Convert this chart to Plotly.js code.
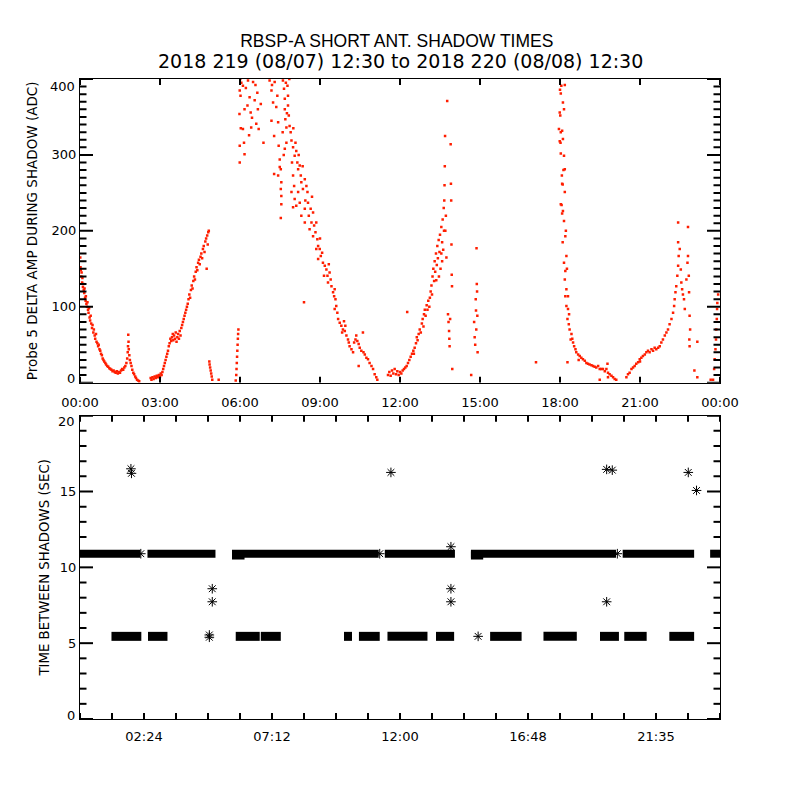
<!DOCTYPE html>
<html>
<head>
<meta charset="utf-8">
<script src="https://cdn.plot.ly/plotly-3.0.1.min.js"></script>
<style>html,body{margin:0;padding:0;background:#fff;}#chart{width:800px;height:800px;}</style>
</head>
<body>
<div id="chart"></div>
<script>
// ---------- Top panel: Probe 5 delta amplitude (ADC) vs hour of interval ----------
const ampHoursA = [0.01,0.02,0.03,0.05,0.06,0.08,0.09,0.11,0.12,0.14,0.16,0.17,0.19,0.21,0.22,
  0.24,0.26,0.28,0.30,0.32,0.34,0.36,0.38,0.40,0.42,
  0.45,0.47,0.50,0.52,0.55,0.57,0.60,0.62,0.65,0.68,
  0.70,0.73,0.76,0.79,0.82,0.85,0.88,0.91,0.95,0.98,
  1.02,1.06,1.10,1.14,1.18,1.22,1.26,1.30,1.34,1.38,
  1.42,1.46,1.50,1.54,1.58,1.62,1.66,1.70,1.74,1.77,
  1.79,1.80,1.81,1.82,1.83,1.85,1.87,1.90,1.93,1.96,
  2.00,2.03,2.07,2.10,2.14,2.18,2.22];
const ampAdcA = [165,152,148,140,145,132,138,126,130,122,118,124,112,108,114,
  104,100,106,96,92,98,86,82,88,78,
  72,76,66,70,62,58,64,54,52,48,
  50,44,42,38,36,32,30,28,26,24,
  22,21,19,18,17,15,16,14,13,15,
  12,14,13,16,18,17,20,22,26,32,
  40,48,63,54,44,36,30,26,22,17,
  13,11,8,6,4,3,2];

const ampHoursB = [2.65,2.68,2.72,2.76,2.80,2.84,2.88,2.92,2.96,3.00,
  3.03,3.06,3.09,3.12,3.15,3.18,3.21,3.24,3.27,3.30,
  3.33,3.36,3.39,3.42,3.45,3.48,3.50,3.53,3.56,3.59,
  3.62,3.65,3.68,3.71,3.74,3.77,3.80,3.83,3.86,3.89,
  3.92,3.95,3.98,4.01,4.04,4.07,4.10,4.13,4.16,4.19,
  4.22,4.25,4.28,4.31,4.34,4.37,4.40,4.43,4.46,4.49,
  4.52,4.55,4.58,4.61,4.64,4.67,4.70,4.73,4.75,4.77,
  4.79,4.81,4.83];
const ampAdcB = [6,4,7,5,8,6,9,7,10,8,
  12,10,14,18,22,26,30,34,38,42,
  48,52,58,55,60,64,56,62,58,66,
  54,60,64,58,68,62,72,76,80,84,
  88,92,96,100,104,110,116,112,122,128,
  124,134,140,136,146,152,148,158,162,156,
  166,170,164,176,180,172,186,190,150,194,
  182,198,200];

const ampHoursC = [4.85,4.86,4.88,4.90,4.92,4.94,4.96,5.20,5.84,5.86,5.87,5.88,5.89,5.90,5.91,5.92,5.93,5.94];
const ampAdcC  = [28,24,20,16,12,8,4,4,3,10,18,26,34,42,50,58,64,70];

const ampHoursD = [5.99,6.02,6.11,6.17,6.11,6.15,5.99,5.99,6.17,6.30,
  6.36,6.40,6.42,6.45,6.49,6.55,6.61,6.65,6.67,6.70,
  6.78,6.34,6.28,6.01,5.98,6.03,6.05,6.22,6.58,6.88,
  7.11,7.18,7.24,7.18,7.28,7.30,7.36,7.40,7.43,7.45,
  7.49,7.53,7.55,7.55,7.53,7.61,7.65,7.68,7.68,7.70,
  7.74,7.78,7.80,7.80,7.83,7.86,7.74,7.68,7.49,7.53,
  7.55,7.28,7.43,7.20,7.60,7.72,7.85,7.76,7.64,7.90];
const ampAdcD = [385,378,391,360,334,316,312,290,301,398,
  376,356,336,349,396,372,341,382,360,334,
  367,326,365,400,354,335,395,388,392,316,
  398,385,369,345,325,396,363,378,343,312,
  294,281,264,246,217,398,387,374,360,347,
  336,391,378,365,352,338,316,308,284,255,
  235,275,273,392,330,395,400,355,300,330];

const ampHoursE = [7.93,7.99,8.05,8.08,8.11,8.15,8.18,7.95,7.99,8.03,
  7.93,8.05,8.24,8.28,8.30,8.36,8.43,8.49,8.53,8.55,
  8.18,8.24,8.11,7.99,8.30,8.43,8.43,8.58,8.65,8.74,
  8.68,8.78,8.83,8.74,8.61,8.86,8.90,8.93,8.99,9.03,
  8.86,8.93,9.08,9.11,9.18,9.24,9.15,9.28,9.33,9.36,
  9.30,9.40,9.43,9.49,9.53,9.55,9.58,9.61,9.55,9.65,
  9.68,9.74,9.80,9.86,9.83,9.93,9.99,9.95,9.90,10.05,
  10.11,10.18,10.24,10.08,10.28,10.33,10.36,10.40,10.45,10.49,
  10.55,10.61,10.63,10.68,10.74,10.80,10.86,10.93,10.99,11.05,
  11.11,11.15,10.45,8.40,8.20,8.35,8.00,8.45,8.70,9.00];
const ampAdcE = [319,310,299,316,305,290,281,290,273,259,
  251,242,286,273,264,255,268,259,251,237,
  251,237,233,231,220,211,229,220,229,224,
  211,207,198,193,202,211,189,180,176,167,
  176,163,171,158,154,149,141,141,156,145,
  132,136,127,119,114,123,110,101,97,92,
  84,79,75,70,66,68,62,75,81,57,
  48,44,40,53,53,57,62,55,51,46,
  42,66,40,37,33,31,26,22,18,11,
  7,4,22,106,300,285,335,240,245,190];

const ampHoursF = [11.55,11.60,11.65,11.70,11.75,11.80,11.85,11.90,11.95,12.00,
  12.05,12.10,12.15,12.20,12.25,12.30,12.27,12.35,12.40,12.45,
  12.50,12.55,12.52,12.60,12.63,12.66,12.70,12.74,12.78,12.82,
  12.85,12.88,12.90,12.93,12.96,13.00,13.03,13.06,13.10,13.12,
  13.15,13.18,13.20,13.22,13.25,13.28,13.30,13.32,13.35,13.38,
  13.40,13.42,13.45,13.48,13.50,13.52,13.55,13.58,13.60,13.62,
  13.64,13.66,13.67,13.68,13.69,13.70,13.72,13.74,13.77,13.80,
  13.82,13.84,13.85,13.86,13.88,13.90,13.91,13.92,13.93,13.94,
  13.95,13.96,14.67,14.78,14.80,14.82,14.84,14.85,14.86,14.87,
  14.88,14.89,14.90,14.91,17.10,13.46,13.58,13.36,13.65,13.55];
const ampAdcF = [10,14,9,16,12,18,11,15,10,14,
  12,16,18,20,22,26,93,30,34,38,
  42,46,38,52,60,56,64,70,66,78,
  84,74,90,96,88,102,96,108,100,112,
  120,128,116,140,150,134,160,146,170,155,
  180,164,188,172,195,150,205,185,215,175,
  230,240,260,285,325,200,220,165,371,90,
  80,68,58,48,84,314,262,240,182,142,
  127,18,10,80,60,50,110,95,70,177,
  130,120,88,40,27,140,160,135,200,170];

const ampHoursG = [18.00,18.03,17.99,18.01,17.96,18.03,17.99,18.03,18.07,18.10,
  18.06,18.08,18.05,18.18,18.11,18.15,18.08,18.11,18.02,18.15,
  18.18,18.08,18.18,18.03,18.11,18.15,18.20,18.10,18.24,18.15,
  18.20,18.18,18.24,18.20,18.30,18.24,18.30,18.28,18.33,18.36,
  18.43,18.40,18.49,18.53,18.58,18.61,18.68,18.74,18.80,18.86,
  18.93,18.99,19.05,19.11,19.18,19.24,19.30,19.36,19.43,19.49,
  19.55,19.61,19.68,19.74,19.78,19.80,19.86,19.93,19.99,20.05,
  20.11,18.28,19.49,19.80,18.13,18.22,18.26,18.34,18.46,18.70];
const ampAdcG = [386,381,356,352,334,330,318,302,273,261,
  234,223,391,392,369,360,332,321,316,299,
  281,262,251,235,226,213,193,185,167,158,
  147,136,123,114,114,101,97,84,77,70,
  64,57,53,48,44,40,37,35,33,31,
  29,26,25,24,23,22,21,20,22,18,
  18,18,15,18,25,13,11,9,7,5,
  4,27,4,7,280,200,150,90,58,30];

const ampHoursH = [20.49,20.55,20.61,20.68,20.74,20.80,20.86,20.93,20.99,21.05,
  21.11,21.18,21.24,21.30,21.36,21.43,21.49,21.55,21.61,21.68,
  21.74,21.80,21.86,21.93,21.99,22.05,22.11,22.18,22.24,22.28,
  22.30,22.33,22.36,22.40,22.43,22.45,22.49,22.43,22.43,22.53,
  22.55,22.58,22.61,22.65,22.68,22.74,22.78,22.80,22.80,22.83,
  22.84,22.86,22.88,22.85,22.86,23.15,23.04,23.15,23.65,23.74,
  23.78,23.80,23.83,23.85,23.86,23.88,23.89,23.90,23.93,21.00];
const ampAdcH = [7,11,13,18,20,22,25,27,31,33,
  35,37,40,42,40,44,42,46,44,46,
  48,53,57,62,66,70,77,84,92,101,
  110,119,127,141,154,167,176,185,211,149,
  132,123,116,110,97,136,158,167,205,141,
  119,88,70,57,48,54,16,7,4,4,
  18,31,44,57,70,84,97,105,116,28];

// ---------- Bottom panel: time between shadows (s) ----------
// continuous runs of points (start hour, end hour, seconds)
const runStartHours = [0.00,2.53,5.70,5.70,11.43,14.66,14.66,20.35,23.63];
const runEndHours   = [2.26,5.08,11.20,6.17,14.06,20.10,15.12,23.03,24.00];
const runSeconds    = [10.9,10.9,10.9,10.78,10.9,10.9,10.78,10.9,10.9];
const halfRunStartHours = [1.18,2.55,5.84,6.78,9.90,10.46,11.53,13.35,15.38,17.38,19.50,20.41,22.10];
const halfRunEndHours   = [2.30,3.28,6.74,7.53,10.20,11.24,13.03,14.03,16.56,18.63,20.21,21.25,23.03];
const halfRunSeconds    = [5.45,5.45,5.45,5.45,5.45,5.45,5.45,5.45,5.45,5.45,5.45,5.45,5.45];
// isolated points
const singleHours   = [1.91,1.93,4.96,4.96,4.85,4.85,11.66,13.91,13.91,13.91,14.93,19.75,19.96,19.75,22.81,23.12,2.28,11.24,20.15];
const singleSeconds = [16.5,16.2,8.59,7.73,5.54,5.39,16.26,11.36,8.59,7.73,5.45,16.46,16.41,7.73,16.26,15.07,10.9,10.9,10.9];

// tick labels
const topTickHours = [0,3,6,9,12,15,18,21,24];
const topTickText  = ['00:00','03:00','06:00','09:00','12:00','15:00','18:00','21:00','00:00'];
const ampTickValues = [0,100,200,300,400];
const ampTickText   = ['','100','200','300',''];
const botTickHours = [2.4,7.2,12,16.8,21.6];
const botTickText  = ['02:24','07:12','12:00','16:48','21:35'];
const secTickValues = [0,5,10,15,20];
const secTickText   = ['','5','10','15',''];

const ampHours = [].concat(ampHoursA,ampHoursB,ampHoursC,ampHoursD,ampHoursE,ampHoursF,ampHoursG,ampHoursH);
const ampAdc   = [].concat(ampAdcA,ampAdcB,ampAdcC,ampAdcD,ampAdcE,ampAdcF,ampAdcG,ampAdcH);

function runsToLine(starts, ends, levels){
  const x=[], y=[];
  for(let i=0;i<starts.length;i++){ x.push(starts[i],ends[i],null); y.push(levels[i],levels[i],null); }
  return {x,y};
}
const fullRuns = runsToLine(runStartHours, runEndHours, runSeconds);
const halfRuns = runsToLine(halfRunStartHours, halfRunEndHours, halfRunSeconds);

// ---- inside tick marks on all four sides, as line segments in axis units ----
const PLOT_W = 640, TOP_H = 0.4745*640, BOT_H = 0.4739*640;
function steps(lo, hi, step){ const a=[]; for(let k=0; lo+k*step<=hi+1e-9; k++) a.push(+(lo+k*step).toFixed(4)); return a; }
function tickSegments(xVals, xLenPx, yVals, yLenPxFn, xRange, yRange, hPx){
  const x=[], y=[];
  const dy = xLenPx*(yRange[1]-yRange[0])/hPx;
  xVals.forEach(v => { x.push(v,v,null,v,v,null); y.push(yRange[0],yRange[0]+dy,null,yRange[1],yRange[1]-dy,null); });
  yVals.forEach(v => {
    const dx = yLenPxFn(v)*(xRange[1]-xRange[0])/PLOT_W;
    x.push(xRange[0],xRange[0]+dx,null,xRange[1],xRange[1]-dx,null); y.push(v,v,null,v,v,null);
  });
  return {x,y};
}
const topTicks = tickSegments(topTickHours, 6, steps(0,400,10), v => (v%100===0?13:6.5), [0,24], [0,400], TOP_H);
const botTicks = tickSegments(steps(0,24,1.2), 6, steps(0,20,1), v => (v%5===0?13:6.5), [0,24], [0,20], BOT_H);

const RED = 'rgb(255,30,0)';
const traces = [
  {type:'scatter', mode:'markers', x:ampHours, y:ampAdc, xaxis:'x', yaxis:'y',
   marker:{symbol:'square', size:2.5, color:RED, line:{width:0}}, hoverinfo:'skip'},
  {type:'scatter', mode:'lines', x:fullRuns.x, y:fullRuns.y, xaxis:'x2', yaxis:'y2',
   line:{color:'black', width:8}, connectgaps:false, hoverinfo:'skip'},
  {type:'scatter', mode:'lines', x:halfRuns.x, y:halfRuns.y, xaxis:'x2', yaxis:'y2',
   line:{color:'black', width:9}, connectgaps:false, hoverinfo:'skip'},
  {type:'scatter', mode:'markers', x:singleHours, y:singleSeconds, xaxis:'x2', yaxis:'y2',
   marker:{symbol:'asterisk-open', size:8, color:'black', line:{color:'black', width:1}}, hoverinfo:'skip'},
  {type:'scatter', mode:'lines', x:topTicks.x, y:topTicks.y, xaxis:'x', yaxis:'y', cliponaxis:false,
   line:{color:'black', width:2, simplify:false}, connectgaps:false, hoverinfo:'skip'},
  {type:'scatter', mode:'lines', x:botTicks.x, y:botTicks.y, xaxis:'x2', yaxis:'y2', cliponaxis:false,
   line:{color:'black', width:2, simplify:false}, connectgaps:false, hoverinfo:'skip'}
];

function axis(extra){
  return Object.assign({showline:true, linecolor:'black', linewidth:1, mirror:true, ticks:'',
    showgrid:false, zeroline:false,
    tickfont:{family:'DejaVu Sans', size:13, color:'black'}}, extra);
}
const endLabelFont = {family:'DejaVu Sans', size:13, color:'black'};
function endLabel(text, yref, yval, shift){
  return {text:text, xref:'paper', yref:yref, x:0, y:yval, xanchor:'right', yanchor:'middle',
          xshift:-3, yshift:shift, showarrow:false, font:endLabelFont};
}

const layout = {
  width:800, height:800,
  margin:{l:80, r:80, t:79, b:81},
  paper_bgcolor:'white', plot_bgcolor:'white', showlegend:false,
  font:{family:'DejaVu Sans', size:13, color:'black'},
  title:{text:'RBSP-A SHORT ANT. SHADOW TIMES', font:{family:'Liberation Sans', size:17.5, color:'black'},
         x:0.495, xanchor:'center', xref:'paper', yref:'container', y:1-41/800, yanchor:'middle'},
  annotations:[
    {text:'2018 219 (08/07) 12:30 to 2018 220 (08/08) 12:30', xref:'paper', yref:'paper',
     x:0.5, y:(719-61)/640, xanchor:'center', yanchor:'middle', showarrow:false,
     font:{family:'DejaVu Sans', size:19, color:'black'}},
    endLabel('400','y',400,-7), endLabel('0','y',0,4),
    endLabel('20','y2',20,-6), endLabel('0','y2',0,4)
  ],
  xaxis:axis({domain:[0,1], anchor:'y', range:[0,24], tickmode:'array',
         tickvals:topTickHours, ticktext:topTickText, ticklabelstandoff:8}),
  yaxis:axis({domain:[0.5255,1], anchor:'x', range:[0,400], tickmode:'array',
         tickvals:ampTickValues, ticktext:ampTickText,
         title:{text:'Probe 5 DELTA AMP DURING SHADOW (ADC)', font:{family:'DejaVu Sans', size:13.5, color:'black'}, standoff:10}}),
  xaxis2:axis({domain:[0,1], anchor:'y2', range:[0,24], tickmode:'array',
         tickvals:botTickHours, ticktext:botTickText, ticklabelstandoff:5}),
  yaxis2:axis({domain:[0,0.4739], anchor:'x2', range:[0,20], tickmode:'array',
         tickvals:secTickValues, ticktext:secTickText,
         title:{text:'TIME BETWEEN SHADOWS (SEC)', font:{family:'DejaVu Sans', size:13.3, color:'black'}, standoff:7}})
};

Plotly.newPlot('chart', traces, layout, {displayModeBar:false});
</script>
</body>
</html>
